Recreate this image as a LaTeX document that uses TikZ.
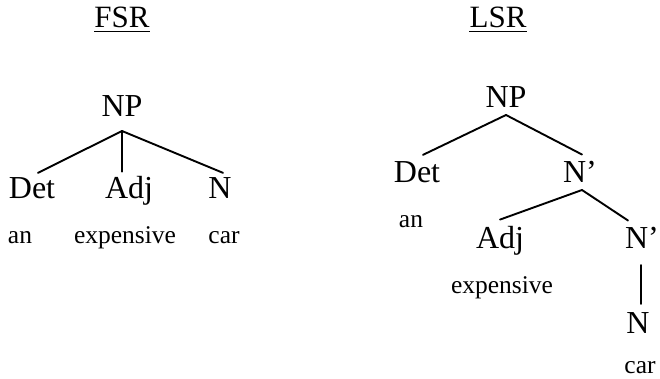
\documentclass[tikz,border=0pt]{standalone}
\usepackage{fontspec}
\setmainfont{Liberation Serif}
\begin{document}
\begin{tikzpicture}[x=1pt,y=-1pt,
  cat/.style={anchor=base,inner sep=0pt,font=\fontsize{32}{34}\selectfont},
  word/.style={anchor=base,inner sep=0pt,font=\fontsize{25.5}{27}\selectfont},
  head/.style={anchor=base,inner sep=0pt,font=\fontsize{31}{33}\selectfont},
  edge/.style={line width=1.9pt,line cap=round},
  uline/.style={line width=1.1pt}]
\useasboundingbox (0,0) rectangle (660,379);

% headings
\node[head] (fsr) at (122,28) {FSR};
\node[head] (lsr) at (498,28) {LSR};
\draw[uline] ([yshift=-3.5pt]fsr.base west) -- ([yshift=-3.5pt]fsr.base east);
\draw[uline] ([yshift=-3.5pt]lsr.base west) -- ([yshift=-3.5pt]lsr.base east);

% flat structure
\node[cat] (npA) at (122,117) {NP};
\node[cat] (detA) at (32,199) {Det};
\node[cat] (adjA) at (129,199) {Adj};
\node[cat] (nA) at (220,199) {N};
\node[word] (anA) at (20,243) {an};
\node[word] (expA) at (125,243) {expensive};
\node[word] (carA) at (224,243) {car};
\coordinate (topA) at ([yshift=-14pt]npA.base);
\draw[edge] (topA) -- ([xshift=6pt,yshift=5pt]detA.north);
\draw[edge] (topA) -- ([xshift=-7pt,yshift=5pt]adjA.north);
\draw[edge] (topA) -- ([xshift=3pt,yshift=5pt]nA.north);

% layered structure
\node[cat] (npB) at (506,108) {NP};
\node[cat] (detB) at (417,183) {Det};
\node[cat] (nbarB) at (580,183) {N'};
\node[word] (anB) at (411,227) {an};
\node[cat] (adjB) at (500,248) {Adj};
\node[cat] (nbarC) at (642,248) {N'};
\node[word] (expB) at (502,293) {expensive};
\node[cat] (nB) at (638,333) {N};
\node[word] (carB) at (640,373) {car};
\draw[edge] ([yshift=-7pt]npB.base) -- ([xshift=6pt,yshift=7pt]detB.north);
\draw[edge] ([yshift=-7pt]npB.base) -- ([xshift=2pt,yshift=7pt]nbarB.north);
\draw[edge] ([xshift=2pt,yshift=-7pt]nbarB.base) -- ([yshift=6pt]adjB.north);
\draw[edge] ([xshift=2pt,yshift=-7pt]nbarB.base) -- ([xshift=-14pt,yshift=6pt]nbarC.north);
\draw[edge] ([xshift=-1pt,yshift=-17pt]nbarC.base) -- ([xshift=3pt,yshift=8pt]nB.north);
\end{tikzpicture}
\end{document}
